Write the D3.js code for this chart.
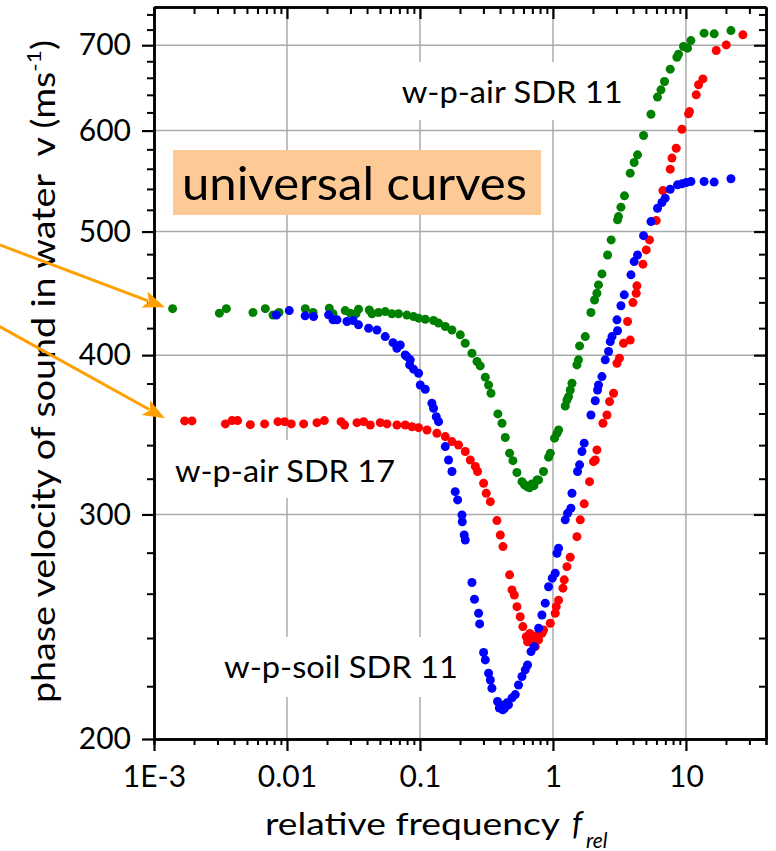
<!DOCTYPE html>
<html><head><meta charset="utf-8">
<script src="https://cdn.jsdelivr.net/npm/d3@7"></script>
<style>
body{margin:0;background:#fff}
svg{display:block}
text{font-family:Lato,"Open Sans",sans-serif;fill:#000}
</style>
</head><body>
<svg id="chart" width="776" height="851"></svg>
<script>
// ---------- data (relative frequency, phase velocity m/s) ----------
const airSDR11 = [[0.00138,435],[0.0031,431.5],[0.0035,435],[0.00555,432],[0.00687,435],[0.00785,430],[0.00871,432],[0.01373,435],[0.0157,432],[0.0208,435.4],[0.0222,431],[0.0274,433.5],[0.0299,431.5],[0.033,431],[0.0345,434.6],[0.0416,434],[0.0436,431],[0.0488,432],[0.0548,432.7],[0.0615,431],[0.069,431],[0.0798,430],[0.0895,428.8],[0.0976,427.6],[0.1096,426.8],[0.1265,425.8],[0.138,423.8],[0.155,421.2],[0.174,418.6],[0.201,414.9],[0.219,408.7],[0.246,401.4],[0.2685,395.4],[0.284,392.3],[0.31,384.4],[0.328,379],[0.342,373.4],[0.3855,359.7],[0.414,353.7],[0.438,344.7],[0.472,335.1],[0.50,330.6],[0.536,323.6],[0.585,318.3],[0.61,316.5],[0.638,315.5],[0.665,314.8],[0.695,317],[0.72,316],[0.759,319.3],[0.78,319.3],[0.849,324.2],[0.927,332.7],[0.955,335.1],[1.028,344.3],[1.072,347.4],[1.102,349.4],[1.237,364.9],[1.274,368.9],[1.31,371.1],[1.349,375.6],[1.39,380.2],[1.514,393],[1.556,396.6],[1.585,406.7],[1.75,413.6],[1.93,432],[2.055,441.9],[2.14,447.3],[2.20,454.1],[2.335,463.2],[2.575,479.3],[2.74,492.5],[3.06,510.7],[3.11,513.7],[3.245,522.5],[3.45,533.3],[3.81,555.6],[4.08,566.4],[4.325,574.3],[4.80,594.7],[5.46,618],[6.11,637.4],[6.49,645.8],[6.90,655.6],[7.62,670.4],[8.55,685],[8.79,688.8],[9.59,698.3],[10.28,696.3],[10.9,705.9],[13.7,715.4],[16.3,714.5],[21.8,718.7]];

const airSDR17 = [[0.0017,355.2],[0.00193,355.2],[0.00344,353.3],[0.00386,355.4],[0.00425,355.4],[0.0053,352.8],[0.00679,353.3],[0.00855,354.7],[0.00959,354.7],[0.01077,353.3],[0.01334,353.3],[0.0168,354.1],[0.0191,355.4],[0.0255,354.7],[0.0271,352.6],[0.0336,354.1],[0.0377,354.7],[0.0423,352.6],[0.0503,354.1],[0.0565,353.3],[0.0671,352.6],[0.0775,352.6],[0.0871,351.5],[0.0976,350.9],[0.113,349.4],[0.134,347.4],[0.155,345.3],[0.174,342.2],[0.195,340.1],[0.219,336.1],[0.239,331],[0.261,327.1],[0.271,324.2],[0.301,317.4],[0.315,311.7],[0.338,307],[0.379,296.7],[0.402,289.1],[0.421,283.1],[0.472,269],[0.492,261.8],[0.512,259.4],[0.536,254],[0.5675,249.4],[0.594,245],[0.63,240.6],[0.644,238.4],[0.67,242],[0.695,240.3],[0.71,237.5],[0.736,236.3],[0.75,241],[0.78,239.2],[0.826,242.1],[0.849,243.5],[0.955,246.5],[1.04,251],[1.059,254],[1.102,257],[1.189,262.6],[1.216,266.6],[1.274,273],[1.349,277.7],[1.514,288.2],[1.604,297.1],[1.718,305.8],[1.884,318.3],[2.018,330],[2.08,331],[2.14,337.1],[2.377,353.7],[2.547,359],[2.665,367.8],[2.855,373.4],[3.03,394.2],[3.162,397.8],[3.395,408.7],[3.81,411],[3.64,425],[3.995,439.8],[4.23,447.3],[4.28,453.3],[4.75,471.4],[5.03,483.7],[5.32,492.5],[5.98,510],[6.71,538.4],[7.62,559.6],[7.85,570.9],[8.45,581.2],[9.33,601.5],[10.46,618.4],[10.64,620.9],[11.95,640],[12.44,651.7],[13.42,658.7],[16.9,693.3],[20.1,700.4],[26.8,713.2]];

const soilSDR11 = [[0.00832,430.1],[0.0104,433.5],[0.0137,429.4],[0.01585,428.8],[0.02055,430.2],[0.0222,426.3],[0.0238,426.3],[0.02825,425],[0.0314,425.8],[0.0345,422.5],[0.0411,419.9],[0.0475,418.6],[0.0548,413.6],[0.0627,409.1],[0.0671,405],[0.0711,407.4],[0.0775,400.1],[0.0798,398.9],[0.0836,393],[0.0845,396.6],[0.0895,390],[0.0976,387.1],[0.1005,379],[0.1096,376.1],[0.123,366.7],[0.1265,363.4],[0.1326,357.9],[0.138,354.7],[0.155,339.1],[0.164,331],[0.174,324.2],[0.184,312.6],[0.192,308],[0.207,299.7],[0.208,296.1],[0.215,289.1],[0.219,286.5],[0.246,265.3],[0.257,257.4],[0.276,251],[0.281,246.2],[0.301,233.8],[0.31,230.7],[0.328,225.2],[0.338,222.5],[0.3475,219.2],[0.383,214],[0.395,211.5],[0.406,212.7],[0.42,210.8],[0.4325,211.4],[0.45,213.5],[0.463,212.7],[0.492,215.4],[0.521,216.7],[0.551,220.5],[0.585,223.9],[0.619,226.6],[0.644,228.6],[0.684,234.2],[0.723,236.3],[0.78,244.3],[0.826,250.2],[0.875,255.6],[0.927,263.3],[0.988,267.4],[1.04,269.8],[1.072,279.7],[1.102,282.3],[1.237,297.1],[1.288,300.6],[1.365,303.4],[1.39,311.7],[1.531,324.2],[1.585,328.1],[1.652,336.1],[1.718,341.2],[1.93,359],[2.08,368.4],[2.164,375.6],[2.20,379],[2.335,384.8],[2.473,396.6],[2.618,402.6],[2.697,409.9],[2.778,413.6],[3.06,418],[3.03,426.3],[3.245,437.3],[3.436,446],[3.86,462.4],[4.08,473.6],[4.325,479.3],[4.80,496.3],[5.46,509.1],[6.11,521.5],[6.60,526.9],[6.98,531.1],[7.62,539.7],[8.65,544],[9.33,545],[10.05,546.3],[10.9,547.3],[13.7,547.3],[16.3,546.7],[21.8,550]];

const xTicks = [0.001, 0.01, 0.1, 1, 10];
const xTickLabels = ["1E-3", "0.01", "0.1", "1", "10"];
const yTicks = [200, 300, 400, 500, 600, 700];
const yMinorTicks = [220,240,260,280,320,340,360,380,420,440,460,480,520,540,560,580,620,640,660,680,720,740];
const xMinorTicks = [0.002,0.003,0.004,0.005,0.006,0.007,0.008,0.009,0.02,0.03,0.04,0.05,0.06,0.07,0.08,0.09,0.2,0.3,0.4,0.5,0.6,0.7,0.8,0.9,2,3,4,5,6,7,8,9,20,30];
const seriesNames = ["w-p-air SDR 11", "w-p-air SDR 17", "w-p-soil SDR 11"];

// ---------- layout ----------
const L = 154, R = 766, T = 7, B = 739;
const svg = d3.select("#chart");
const x = d3.scaleLog().domain([0.001, 40]).range([L, R]);
const y = d3.scaleLog().domain([200, 750]).range([B, T]);
const gridColor = "#aaaaaa";

// gridlines
const grid = svg.append("g");
grid.selectAll(".gx").data(xTicks.slice(1)).join("line")
  .attr("x1", d => x(d)).attr("x2", d => x(d)).attr("y1", T).attr("y2", B)
  .attr("stroke", gridColor).attr("stroke-width", 1.5);
grid.selectAll(".gy").data(yTicks.slice(1)).join("line")
  .attr("x1", L).attr("x2", R).attr("y1", d => y(d)).attr("y2", d => y(d))
  .attr("stroke", gridColor).attr("stroke-width", 1.5);

// "universal curves" box
svg.append("rect").attr("x", 173).attr("y", 150).attr("width", 368).attr("height", 65)
  .attr("fill", "#fdca96");
svg.append("text").attr("x", 182).attr("y", 200).attr("font-size", 47)
  .attr("textLength", 345).attr("lengthAdjust", "spacingAndGlyphs").text("universal curves");

// series labels with white backgrounds
const labelPos = [
  {x: 401.7, y: 103, w: 221, top: 62, bot: 120},
  {x: 175, y: 481.7, w: 220, top: 440, bot: 498},
  {x: 224, y: 678, w: 234, top: 637, bot: 697}
];
seriesNames.forEach((name, i) => {
  const p = labelPos[i];
  svg.append("rect").attr("x", p.x - 8).attr("y", p.top).attr("width", p.w + 16)
    .attr("height", p.bot - p.top).attr("fill", "#fff");
  svg.append("text").attr("x", p.x).attr("y", p.y).attr("font-size", 30)
    .attr("textLength", p.w).attr("lengthAdjust", "spacingAndGlyphs").text(name);
});

// data points
const series = [
  {data: airSDR11, color: "#008000"},
  {data: airSDR17, color: "#ff0000"},
  {data: soilSDR11, color: "#0000ff"}
];
series.forEach(s => {
  svg.append("g").selectAll("circle").data(s.data).join("circle")
    .attr("cx", d => x(d[0])).attr("cy", d => y(d[1])).attr("r", 4.5)
    .attr("fill", s.color);
});

// axes
function styleAxis(g, w) {
  g.select(".domain").attr("stroke", "#000").attr("stroke-width", 2.5);
  g.selectAll(".tick line").attr("stroke", "#000").attr("stroke-width", w);
  g.selectAll("text").attr("font-size", 30).attr("font-family", "Lato, 'Open Sans', sans-serif").attr("fill", "#000");
}
const fmtX = d => xTickLabels[xTicks.indexOf(d)];
// bottom
svg.append("g").attr("transform", `translate(0,${B})`)
  .call(d3.axisBottom(x).tickValues(xMinorTicks).tickSize(6).tickFormat("")).call(g => styleAxis(g, 2));
svg.append("g").attr("transform", `translate(0,${B})`)
  .call(d3.axisBottom(x).tickValues(xTicks).tickSize(12).tickSizeOuter(0).tickPadding(15).tickFormat(fmtX)).call(g => styleAxis(g, 2.2));
// top (inward)
svg.append("g").attr("transform", `translate(0,${T})`)
  .call(d3.axisTop(x).tickValues(xMinorTicks).tickSize(-7).tickSizeOuter(0).tickFormat("")).call(g => styleAxis(g, 2));
svg.append("g").attr("transform", `translate(0,${T})`)
  .call(d3.axisTop(x).tickValues(xTicks).tickSize(-12).tickSizeOuter(0).tickFormat("")).call(g => styleAxis(g, 2.2));
// left
svg.append("g").attr("transform", `translate(${L},0)`)
  .call(d3.axisLeft(y).tickValues(yMinorTicks).tickSize(7).tickSizeOuter(0).tickFormat("")).call(g => styleAxis(g, 2));
svg.append("g").attr("transform", `translate(${L},0)`)
  .call(d3.axisLeft(y).tickValues(yTicks).tickSize(12).tickSizeOuter(0).tickPadding(11).tickFormat(d3.format("d"))).call(g => styleAxis(g, 2.2));
// right (inward)
svg.append("g").attr("transform", `translate(${R},0)`)
  .call(d3.axisRight(y).tickValues(yMinorTicks).tickSize(-7).tickSizeOuter(0).tickFormat("")).call(g => styleAxis(g, 2));
svg.append("g").attr("transform", `translate(${R},0)`)
  .call(d3.axisRight(y).tickValues(yTicks).tickSize(-12).tickSizeOuter(0).tickFormat("")).call(g => styleAxis(g, 2.2));

// axis titles
const yt = svg.append("text").attr("transform", "translate(55,703) rotate(-90)")
  .attr("font-size", 33).attr("textLength", 663).attr("lengthAdjust", "spacingAndGlyphs");
yt.append("tspan").text("phase velocity of sound in water\u00A0\u00A0v (ms");
yt.append("tspan").attr("font-size", 20).attr("dy", -14).text("-1");
yt.append("tspan").attr("dy", 14).text(")");

svg.append("text").attr("x", 265).attr("y", 835).attr("font-size", 31)
  .attr("textLength", 295).attr("lengthAdjust", "spacingAndGlyphs").text("relative frequency");
svg.append("text").attr("x", 572).attr("y", 835).attr("font-size", 32).attr("font-style", "italic").text("f");
svg.append("text").attr("x", 586).attr("y", 848).attr("font-size", 21).attr("font-style", "italic").text("rel");

// arrows
const arrowColor = "#ff9f00";
const arrows = [
  {x0: 0, y0: 245, x1: 165, y1: 307.3},
  {x0: 0, y0: 326.7, x1: 165, y1: 418.3}
];
arrows.forEach(a => {
  const dx = a.x1 - a.x0, dy = a.y1 - a.y0, len = Math.hypot(dx, dy);
  const ux = dx / len, uy = dy / len, hl = 22, hw = 8.5;
  const bx = a.x1 - ux * hl, by = a.y1 - uy * hl;
  svg.append("line").attr("x1", a.x0 - ux * 20).attr("y1", a.y0 - uy * 20)
    .attr("x2", bx + ux * 4).attr("y2", by + uy * 4)
    .attr("stroke", arrowColor).attr("stroke-width", 3);
  svg.append("polygon").attr("points", [
    [a.x1, a.y1], [bx - uy * hw, by + ux * hw], [bx + ux * 5, by + uy * 5], [bx + uy * hw, by - ux * hw]
  ].map(p => p.join(",")).join(" ")).attr("fill", arrowColor);
});
</script>
</body></html>
